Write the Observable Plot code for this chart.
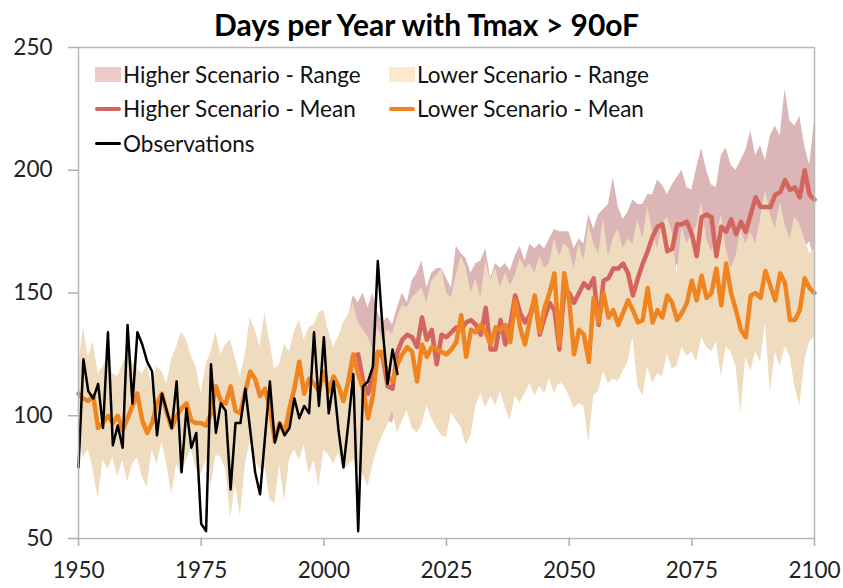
<!DOCTYPE html>
<html>
<head>
<meta charset="utf-8">
<script src="https://cdn.jsdelivr.net/npm/d3@7"></script>
<script src="https://cdn.jsdelivr.net/npm/@observablehq/plot@0.6"></script>
<style>
  body { margin: 0; background: #fff; font-family: Lato, "Open Sans", sans-serif; }
  #wrap { position: relative; width: 843px; height: 588px; overflow: hidden; }
  #title { height: 40px; line-height: 49px; text-align: center; font-weight: bold; font-size: 30px; color: #000; padding-left: 10px; white-space: nowrap; }
  #legend { position: absolute; left: 95px; top: 62px; display: grid; grid-template-columns: 294px 260px; grid-auto-rows: 34.5px; }
  .item { display: flex; align-items: center; height: 24px; font-size: 22.5px; color: #111; white-space: nowrap; }
  .sw { display: inline-block; width: 26px; margin-right: 2px; }
</style>
</head>
<body>
<div id="wrap">
  <div id="title"></div>
  <div id="chart"></div>
  <div id="legend"></div>
</div>
<script>
// ---------- data ----------
const titleText = "Days per Year with Tmax > 90oF";
const firstYear = 1950;
const lastYear = 2100;
const futureStart = 2005;
const xTicks = [1950, 1975, 2000, 2025, 2050, 2075, 2100];
const yTicks = [50, 100, 150, 200, 250];

// Lower scenario (1950-2100)
const lowerMean = [
  109,107,106,108,95,97,100,97,100,94,
  99,104,109,98,93,97,105,109,101,95,
  100,103,105,98,97,97,96,101,112,106,
  105,112,102,101,110,118,115,108,111,103,
  90,97,93,103,111,122,109,115,113,110,
  118,110,116,112,106,114,125,117,111,99,
  108,126,126,116,114,121,125,128,126,114,
  129,124,128,127,126,125,127,130,141,124,
  135,134,137,134,129,136,135,137,130,147,
  136,129,139,149,134,144,150,158,129,158,
  147,125,135,133,122,148,138,150,140,143,
  137,142,147,143,138,139,152,138,143,140,
  149,146,139,142,146,155,147,157,148,150,
  160,145,162,150,143,135,132,149,150,148,
  159,153,147,158,154,139,139,143,156,152,
  150];
const lowerMax = [
  120,136,124,130,117,120,124,117,116,121,
  125,122,119,117,121,112,120,118,113,123,
  128,134,131,124,120,109,121,126,134,125,
  129,131,123,116,125,140,135,128,142,130,
  119,121,129,126,134,139,131,136,137,142,
  143,134,128,132,138,141,146,138,135,132,
  127,136,131,135,133,140,145,144,148,150,
  152,146,155,157,160,150,148,157,165,160,
  150,156,148,163,155,160,152,158,153,157,
  164,160,162,158,165,160,162,172,165,170,
  168,160,170,163,178,170,166,180,165,172,
  176,168,172,170,180,172,185,175,168,178,
  181,175,157,177,170,174,177,187,172,167,
  172,182,168,160,165,176,170,175,170,180,
  192,182,176,187,178,172,181,178,172,166,
  168];
const lowerMin = [
  90,83,86,78,66,82,78,83,75,82,
  73,80,83,75,71,86,80,89,80,68,
  80,76,82,86,78,76,82,71,84,83,
  78,58,72,59,80,90,82,78,79,66,
  64,80,65,82,86,82,88,76,82,71,
  86,84,80,85,77,80,82,78,76,71,
  80,87,92,96,102,93,98,102,95,93,
  96,104,99,95,92,91,101,98,95,88,
  92,104,109,103,108,104,110,103,98,108,
  105,109,113,108,112,109,115,109,114,112,
  108,103,105,104,89,108,110,118,113,115,
  114,118,122,132,112,108,120,113,117,116,
  125,119,120,128,124,126,122,132,128,126,
  130,116,128,126,120,101,124,118,126,122,
  138,109,126,120,128,124,112,104,122,130,
  132];

// Higher scenario (2005-2100)
const higherMean = [
  114,124,125,114,109,117,126,124,112,111,
  126,131,133,132,128,140,131,135,121,133,
  132,134,136,135,138,139,137,133,144,127,
  127,139,129,137,149,142,138,141,148,133,
  140,146,143,127,151,150,146,150,154,152,
  156,137,155,156,160,160,162,158,149,156,
  162,167,173,177,178,167,168,178,178,179,
  174,165,181,182,181,165,177,175,180,174,
  179,175,182,189,185,185,185,190,191,196,
  192,193,189,200,190,188];
const higherMax = [
  140,149,146,150,144,150,142,138,140,137,
  144,150,146,155,158,163,152,158,160,160,
  156,152,169,166,164,158,162,163,168,156,
  162,160,162,159,165,169,163,170,168,170,
  168,172,176,175,175,175,168,172,170,182,
  176,182,184,186,197,185,180,183,188,186,
  186,190,190,196,194,190,194,197,200,193,
  192,201,209,200,194,193,206,209,202,200,
  204,208,216,206,210,204,214,218,214,233,
  220,218,222,210,202,220];
const higherMin = [
  92,96,98,94,90,95,100,102,98,97,
  104,108,110,106,109,114,110,112,104,110,
  109,112,114,113,116,117,113,112,120,108,
  110,118,112,116,124,120,118,121,126,115,
  120,124,122,112,128,130,126,128,132,130,
  134,122,135,136,140,139,142,138,132,137,
  142,146,150,152,154,150,148,162,155,156,
  152,146,158,160,158,148,155,154,152,156,
  158,155,161,166,163,164,162,168,168,172,
  163,170,166,168,171,163];

// Observations (1950-2015)
const observations = [
  79,123,110,107,113,95,134,88,96,87,
  137,105,134,129,122,118,92,109,102,95,
  114,77,103,87,93,56,53,121,93,105,
  102,70,97,97,111,94,77,68,91,114,
  89,97,92,95,107,99,104,101,134,104,
  132,101,114,94,79,97,117,53,112,114,
  120,163,135,113,127,117];

const legendLabels = [
  "Higher Scenario - Range", "Lower Scenario - Range",
  "Higher Scenario - Mean", "Lower Scenario - Mean",
  "Observations"];
const legendKinds = ["rect", "rect", "line", "line", "line"];

// ---------- style ----------
const C = {
  highRange: "#dcb5b6",
  lowRange: "#efdcbe",
  highMean: "#d4645e",
  lowMean: "#ef8420",
  obs: "#000000",
  highRangeKey: "#efc9c9",
  lowRangeKey: "#fde8cc"
};
const legendColors = [C.highRangeKey, C.lowRangeKey, C.highMean, C.lowMean, C.obs];
const legendThick = [15, 15, 4, 4, 3];

// ---------- tables ----------
const lowerData = lowerMean.map((m, i) => ({year: firstYear + i, mean: m, min: lowerMin[i], max: lowerMax[i]}));
const higherData = higherMean.map((m, i) => ({year: futureStart + i, mean: m, min: higherMin[i], max: higherMax[i]}));
const obsData = observations.map((v, i) => ({year: firstYear + i, value: v}));

document.getElementById("title").textContent = titleText;

const chart = Plot.plot({
  width: 843,
  height: 548,
  marginTop: 7,
  marginBottom: 50,
  marginLeft: 78,
  marginRight: 29,
  style: {fontFamily: "Lato, 'Open Sans', sans-serif", background: "white", overflow: "visible"},
  x: {domain: [firstYear, lastYear]},
  y: {domain: [50, 250]},
  marks: [
    Plot.areaY(higherData, {x: "year", y1: "min", y2: "max", fill: C.highRange}),
    Plot.areaY(lowerData, {x: "year", y1: "min", y2: "max", fill: C.lowRange}),
    Plot.lineY(higherData, {x: "year", y: "mean", stroke: C.highMean, strokeWidth: 4.5, strokeLinejoin: "round"}),
    Plot.lineY(lowerData, {x: "year", y: "mean", stroke: C.lowMean, strokeWidth: 4.5, strokeLinejoin: "round"}),
    Plot.lineY(obsData, {x: "year", y: "value", stroke: C.obs, strokeWidth: 2.5, strokeLinejoin: "round"}),
    Plot.frame({stroke: "#b8b8b8", strokeWidth: 1.5}),
    Plot.axisY({ticks: yTicks, tickSize: 10, tickPadding: 16, fontSize: 22.5, color: "#222", stroke: "#b0b0b0", strokeWidth: 1.5, label: null}),
    Plot.axisX({ticks: xTicks, tickSize: 8, tickPadding: 16, fontSize: 22.5, color: "#222", stroke: "#b0b0b0", strokeWidth: 1.5, tickFormat: d => String(d), label: null})
  ]
});
document.getElementById("chart").appendChild(chart);

// ---------- legend ----------
const legend = document.getElementById("legend");
legendLabels.forEach((lab, i) => {
  const item = document.createElement("div");
  item.className = "item";
  const sw = document.createElement("span");
  sw.className = "sw";
  sw.style.height = legendThick[i] + "px";
  sw.style.background = legendColors[i];
  if (legendKinds[i] === "line") sw.style.borderRadius = "2px";
  item.appendChild(sw);
  const t = document.createElement("span");
  t.textContent = lab;
  item.appendChild(t);
  legend.appendChild(item);
});
</script>
</body>
</html>
